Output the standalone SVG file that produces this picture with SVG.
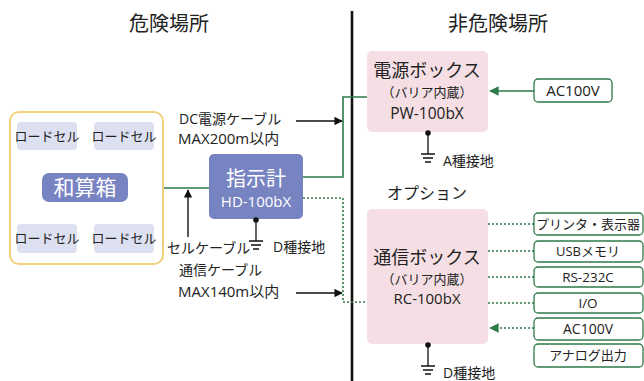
<svg xmlns="http://www.w3.org/2000/svg" width="644" height="381" viewBox="0 0 644 381">
<defs>
<style>
text{font-family:"Open Sans","Noto Sans CJK JP",sans-serif;fill:#222;}
.c{text-anchor:middle;}
.w{fill:#fff;}
.lc{fill:#dde0f0;}
.blue{fill:#7884c2;}
.pink{fill:#f5dfe4;}
.opt{fill:#fff;stroke:#2e7a48;stroke-width:1.3;}
.g{stroke:#2e7a48;stroke-width:1.6;fill:none;}
.gd{stroke:#2e7a48;stroke-width:1.6;fill:none;stroke-dasharray:2 2;}
.k{stroke:#111;stroke-width:1.4;fill:none;}
</style>
<marker id="ag" viewBox="0 0 10 10" refX="9" refY="5" markerWidth="6" markerHeight="6" orient="auto-start-reverse" markerUnits="strokeWidth"><path d="M0,0L10,5L0,10z" fill="#2e7a48"/></marker>
<marker id="ak" viewBox="0 0 10 10" refX="9" refY="5" markerWidth="6" markerHeight="6" orient="auto-start-reverse" markerUnits="strokeWidth"><path d="M0,0L10,5L0,10z" fill="#111"/></marker>
<g id="gnd"><circle cx="0" cy="0" r="2.8" fill="#111"/><path d="M0,0V21M-7,21H7M-5,25H5M-3,29H3" stroke="#111" stroke-width="1.3" fill="none"/></g>
</defs>
<rect width="644" height="381" fill="#fff"/>

<g id="headings">
<text x="169" y="31" class="c" font-size="20">危険場所</text>
<text x="498" y="31" class="c" font-size="20">非危険場所</text>
<line x1="352" y1="11" x2="352" y2="381" stroke="#111" stroke-width="2.6"/>
</g>

<g id="connectors">
<path class="g" d="M62,150V173M108,150V173M62,202V224M108,202V224"/>
<path class="g" d="M128,188H209"/>
<path class="g" d="M303,177H343V97H367"/>
<path class="gd" d="M303,198H343V302H367"/>
<path class="g" d="M534,91H490" marker-end="url(#ag)"/>
<path class="gd" d="M488,224H534M488,251H534M488,277H534M488,303H534"/>
<path class="gd" d="M534,328H490" marker-end="url(#ag)"/>
<path class="k" d="M296,121H342" marker-end="url(#ak)"/>
<path class="k" d="M296,293H342" marker-end="url(#ak)"/>
<path class="k" d="M188,237V190" marker-end="url(#ak)"/>
</g>

<g id="hazard-area">
<rect x="10" y="112" width="153" height="152" rx="9" fill="#fff" stroke="#f3d17c" stroke-width="2"/>
</g>

<g id="loadcell-1"><rect x="17" y="122" width="60" height="28" rx="4" class="lc"/><text x="47" y="141" class="c" font-size="13">ロードセル</text></g>
<g id="loadcell-2"><rect x="94" y="122" width="60" height="28" rx="4" class="lc"/><text x="124" y="141" class="c" font-size="13">ロードセル</text></g>
<g id="loadcell-3"><rect x="17" y="224" width="60" height="29" rx="4" class="lc"/><text x="47" y="243" class="c" font-size="13">ロードセル</text></g>
<g id="loadcell-4"><rect x="94" y="224" width="60" height="29" rx="4" class="lc"/><text x="124" y="243" class="c" font-size="13">ロードセル</text></g>

<g id="summing-box"><rect x="42" y="173" width="86" height="29" rx="7" class="blue"/><text x="85" y="195" class="c w" font-size="21">和算箱</text></g>

<g id="indicator"><rect x="209" y="154" width="94" height="65" rx="5" class="blue"/><text x="256" y="186" class="c w" font-size="20">指示計</text><text x="256" y="207" class="c w" font-size="15">HD-100bX</text>
<use href="#gnd" x="256" y="220"/><text x="273" y="252" font-size="14">D種接地</text></g>

<g id="cable-labels">
<text x="179" y="124" font-size="14">DC電源ケーブル</text>
<text x="178" y="144" font-size="15">MAX200m以内</text>
<text x="167" y="253" font-size="14">セルケーブル</text>
<text x="179" y="275" font-size="14">通信ケーブル</text>
<text x="178" y="297" font-size="15">MAX140m以内</text>
</g>

<g id="power-box"><rect x="367" y="51" width="121" height="81" rx="5" class="pink"/>
<text x="427" y="77" class="c" font-size="18">電源ボックス</text>
<text x="427" y="97" class="c" font-size="13">（バリア内蔵）</text>
<text x="427" y="119" class="c" font-size="15.5">PW-100bX</text>
<use href="#gnd" x="428" y="133"/><text x="443" y="166" font-size="14">A種接地</text></g>

<g id="ac-power"><rect x="534" y="79" width="78" height="23" rx="4" class="opt"/><text x="573" y="96" class="c" font-size="15">AC100V</text></g>

<text x="387" y="199" font-size="16">オプション</text>

<g id="comm-box"><rect x="367" y="209" width="121" height="135" rx="5" class="pink"/>
<text x="427" y="264" class="c" font-size="18">通信ボックス</text>
<text x="427" y="284" class="c" font-size="13">（バリア内蔵）</text>
<text x="427" y="304" class="c" font-size="15">RC-100bX</text>
<use href="#gnd" x="428" y="345"/><text x="443" y="378" font-size="14">D種接地</text></g>

<g id="opt-printer"><rect x="534" y="213" width="109" height="22" rx="4" class="opt"/><text x="588" y="229" class="c" font-size="13">プリンタ・表示器</text></g>
<g id="opt-usb"><rect x="534" y="241" width="109" height="21" rx="4" class="opt"/><text x="588" y="256" class="c" font-size="13">USBメモリ</text></g>
<g id="opt-rs232c"><rect x="534" y="267" width="109" height="20" rx="4" class="opt"/><text x="588" y="282" class="c" font-size="13.5">RS-232C</text></g>
<g id="opt-io"><rect x="534" y="293" width="109" height="20" rx="4" class="opt"/><text x="588" y="308" class="c" font-size="13.5">I/O</text></g>
<g id="opt-ac"><rect x="534" y="318" width="109" height="22" rx="4" class="opt"/><text x="588" y="334" class="c" font-size="14">AC100V</text></g>
<g id="opt-analog"><rect x="534" y="344" width="109" height="23" rx="4" class="opt"/><text x="588" y="360" class="c" font-size="13">アナログ出力</text></g>
</svg>
